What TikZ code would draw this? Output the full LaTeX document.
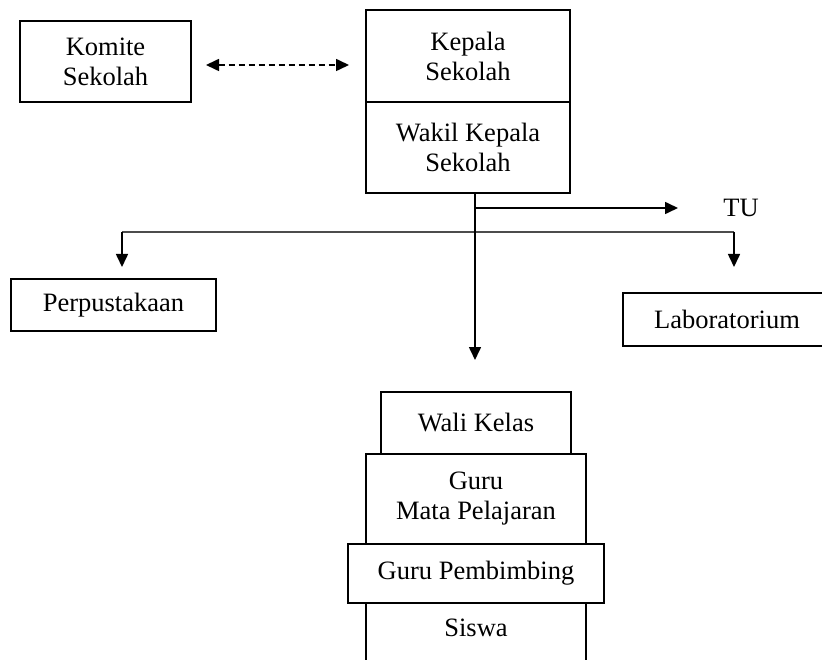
\documentclass[tikz,border=0pt]{standalone}
\usepackage{fontspec}
\setmainfont{Liberation Serif}
\usetikzlibrary{arrows.meta}
\tikzset{
  box/.style={draw, line width=1.7pt, align=center, inner sep=0pt, font=\fontsize{26.5}{30}\selectfont},
  lbl/.style={inner sep=0pt, align=center, font=\fontsize{26.5}{30}\selectfont},
  tip/.style={-{Triangle[length=13pt,width=12pt]}},
  conn/.style={line width=1.6pt, tip},
  hubline/.style={line width=2pt, draw=black!70},
}
\begin{document}
\begin{tikzpicture}[x=1pt,y=-1pt]
\useasboundingbox (0,0) rectangle (822,660);
\clip (0,0) rectangle (822,660);
% top
\node[box, minimum width=171pt, minimum height=81pt] (komite) at (105.5,61.5) {Komite\\Sekolah};
\node[box, minimum width=204pt, minimum height=92pt] (kepala) at (468,56) {Kepala\\Sekolah};
\node[box, minimum width=204pt, minimum height=91pt] (wakil) at (468,147.5) {Wakil Kepala\\Sekolah};
\coordinate (dl) at (206,65);
\coordinate (dr) at (349,65);
\draw[line width=1.6pt, dash pattern=on 6pt off 4pt, {Triangle[length=13pt,width=12pt]}-{Triangle[length=13pt,width=12pt]}] (dl) -- (dr);
% side units
\node[lbl] (tu) at (741,208) {TU};
\node[box, minimum width=205pt, minimum height=52pt] (perpus) at (113.5,305) {Perpustakaan};
\node[box, minimum width=208pt, minimum height=53pt] (lab) at (727,319.5) {Laboratorium};
% bottom stack
\node[box, minimum width=190pt, minimum height=62pt] (wali) at (476,423) {Wali Kelas};
\node[box, minimum width=220pt, minimum height=90pt] (gmp) at (476,499) {Guru\\Mata Pelajaran};
\node[lbl] (siswa) at (476,628) {Siswa};
\draw[line width=1.7pt] (366,603) -- (366,680) (586,603) -- (586,680);
\node[box, minimum width=256pt, minimum height=59pt] (gp) at (476,573.5) {Guru Pembimbing};
% connectors
\coordinate (top) at (475,193);
\coordinate (tuj) at (475,208);
\coordinate (tuend) at (678,208);
\coordinate (hub) at (475,232);
\coordinate (pl) at (122,267);
\coordinate (pr) at (734,267);
\coordinate (vend) at (475,360);
\draw[hubline] (pl |- hub) -- (pr |- hub);
\draw[conn] (pl |- hub) -- (pl);
\draw[conn] (pr |- hub) -- (pr);
\draw[conn] (tuj) -- (tuend);
\draw[conn] (top) -- (vend);
\end{tikzpicture}
\end{document}
